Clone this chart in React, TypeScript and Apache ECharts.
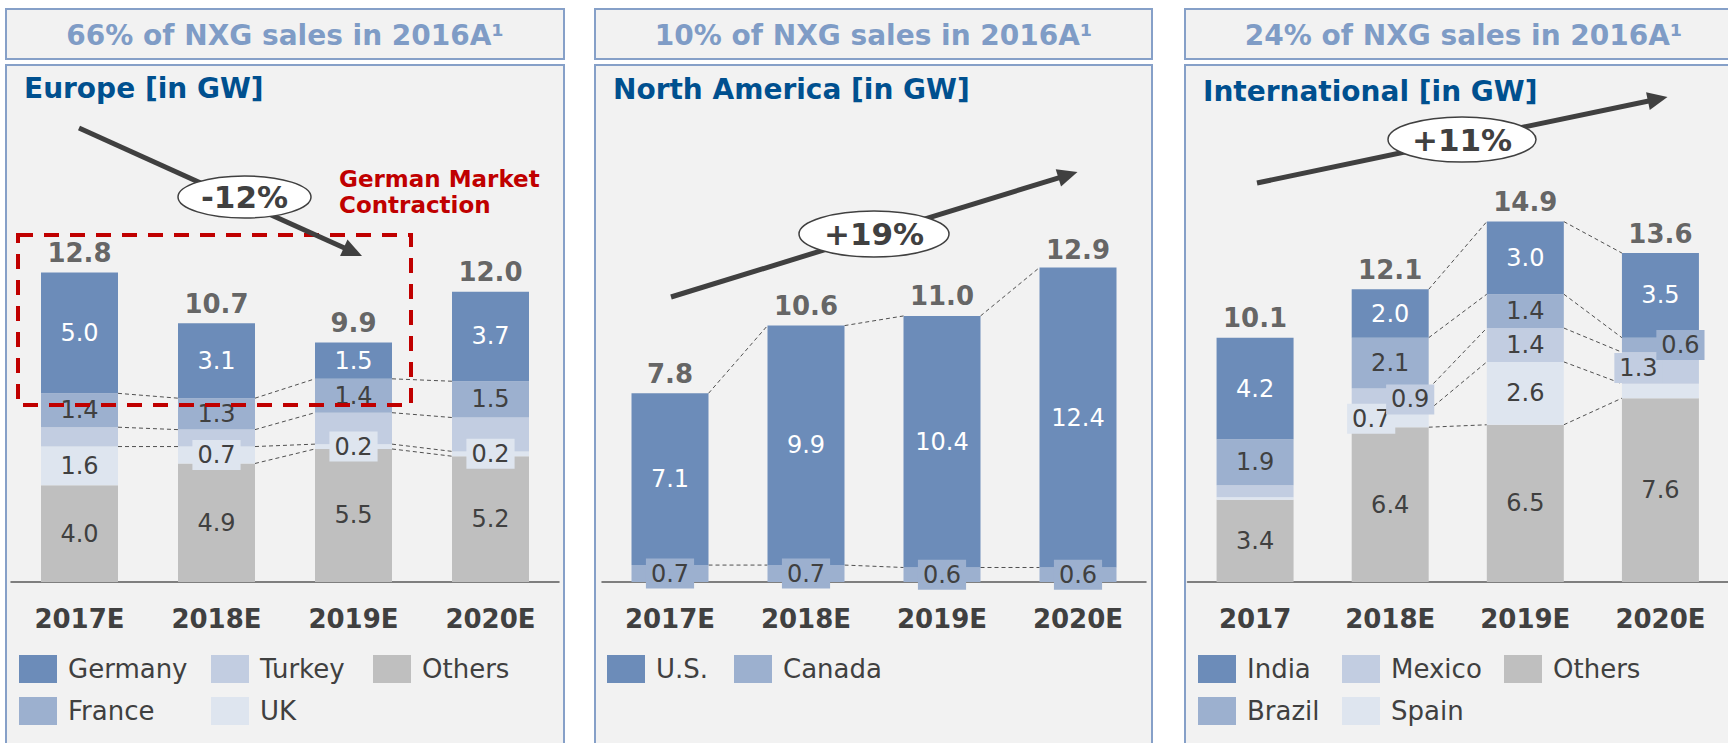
import React, { useEffect, useRef } from "react";
import * as echarts from "echarts";

// ---------- data ----------
const europeYears = ["2017E", "2018E", "2019E", "2020E"];
const europeGermany = [5.0, 3.1, 1.5, 3.7];
const europeFrance = [1.4, 1.3, 1.4, 1.5];
const europeTurkey = [0.8, 0.7, 1.3, 1.4];
const europeUK = [1.6, 0.7, 0.2, 0.2];
const europeOthers = [4.0, 4.9, 5.5, 5.2];
const europeTotals = [12.8, 10.7, 9.9, 12.0];

const naYears = ["2017E", "2018E", "2019E", "2020E"];
const naUS = [7.1, 9.9, 10.4, 12.4];
const naCanada = [0.7, 0.7, 0.6, 0.6];
const naTotals = [7.8, 10.6, 11.0, 12.9];

const intlYears = ["2017", "2018E", "2019E", "2020E"];
const intlIndia = [4.2, 2.0, 3.0, 3.5];
const intlBrazil = [1.9, 2.1, 1.4, 0.6];
const intlMexico = [0.5, 0.9, 1.4, 1.3];
const intlSpain = [0.1, 0.7, 2.6, 0.6];
const intlOthers = [3.4, 6.4, 6.5, 7.6];
const intlTotals = [10.1, 12.1, 14.9, 13.6];

const headerTexts = [
  "66% of NXG sales in 2016A\u00b9",
  "10% of NXG sales in 2016A\u00b9",
  "24% of NXG sales in 2016A\u00b9",
];
const panelTitles = ["Europe [in GW]", "North America [in GW]", "International [in GW]"];
const cagrTexts = ["-12%", "+19%", "+11%"];
const calloutLines = ["German Market", "Contraction"];

// ---------- style ----------
const FONT = '"DejaVu Sans", Verdana, sans-serif';
const C_DARK = "#6c8cb9";
const C_MID = "#9cb0cf";
const C_LIGHT = "#c2cde1";
const C_PALE = "#dee5ef";
const C_GRAY = "#bfbfbf";
const TXT = "#404040";
const BORDER = "#86a0c8";
const BAR_W = 77;
const Y_MAX = 16;

const panels = [
  { x: 6, w: 558 },
  { x: 595, w: 557 },
  { x: 1185, w: 557 },
];
const grids = [
  { left: 11, width: 548 },
  { left: 602, width: 544 },
  { left: 1187.5, width: 549 },
];

const boxLabel = (bg: string, dx: number) => ({
  backgroundColor: bg,
  padding: [3, 5],
  offset: [dx, 0],
});
const HIDE = { show: false };

function barSeries(
  name: string,
  values: number[],
  color: string,
  gi: number,
  textColor: string,
  itemLabels?: any[]
) {
  return {
    type: "bar",
    name,
    stack: "s" + gi,
    xAxisIndex: gi,
    yAxisIndex: gi,
    barWidth: BAR_W,
    z: 3,
    itemStyle: { color },
    emphasis: { disabled: true },
    label: {
      show: true,
      position: "inside",
      color: textColor,
      fontSize: 24,
      fontFamily: FONT,
      formatter: (p: any) => Number(p.value).toFixed(1),
    },
    data: values.map((v, i) =>
      itemLabels && itemLabels[i] ? { value: v, label: itemLabels[i] } : v
    ),
  };
}

function connectorSeries(gi: number, stackBottomUp: number[][], links: number[][]) {
  const n = stackBottomUp[0].length;
  const cum: number[][] = [];
  for (let i = 0; i < n; i++) {
    const row = [0];
    let s = 0;
    stackBottomUp.forEach((arr) => {
      s += arr[i];
      row.push(s);
    });
    cum.push(row);
  }
  const data: number[][] = [];
  links.forEach((levels, gap) =>
    levels.forEach((k) => data.push([gap, cum[gap][k], cum[gap + 1][k]]))
  );
  return {
    type: "custom",
    xAxisIndex: gi,
    yAxisIndex: gi,
    z: 1,
    silent: true,
    encode: { x: 0, y: 1 },
    data,
    renderItem: (params: any, api: any) => {
      const i = api.value(0);
      const p1 = api.coord([i, api.value(1)]);
      const p2 = api.coord([i + 1, api.value(2)]);
      return {
        type: "line",
        shape: { x1: p1[0] + BAR_W / 2, y1: p1[1], x2: p2[0] - BAR_W / 2, y2: p2[1] },
        style: { stroke: "#505050", lineWidth: 1, lineDash: [4, 3] },
      };
    },
  };
}

function totalSeries(gi: number, totals: number[]) {
  return {
    type: "scatter",
    xAxisIndex: gi,
    yAxisIndex: gi,
    symbolSize: 1,
    silent: true,
    z: 5,
    itemStyle: { color: "rgba(0,0,0,0)" },
    label: {
      show: true,
      position: "top",
      distance: 6,
      fontSize: 26,
      fontWeight: "bold",
      fontFamily: FONT,
      color: TXT,
      formatter: (p: any) => Number(p.value).toFixed(1),
    },
    data: totals,
  };
}

function arrow(x1: number, y1: number, x2: number, y2: number) {
  const dx = x2 - x1;
  const dy = y2 - y1;
  const L = Math.hypot(dx, dy);
  const ux = dx / L;
  const uy = dy / L;
  const hl = 20;
  const hw = 9;
  const bx = x2 - ux * hl;
  const by = y2 - uy * hl;
  return [
    {
      type: "line",
      z: 50,
      shape: { x1, y1, x2: bx + ux * 2, y2: by + uy * 2 },
      style: { stroke: TXT, lineWidth: 5 },
    },
    {
      type: "polygon",
      z: 50,
      shape: {
        points: [
          [x2, y2],
          [bx - uy * hw, by + ux * hw],
          [bx + uy * hw, by - ux * hw],
        ],
      },
      style: { fill: TXT },
    },
  ];
}

function bubble(cx: number, cy: number, rx: number, ry: number, text: string) {
  return [
    {
      type: "ellipse",
      z: 60,
      shape: { cx, cy, rx, ry },
      style: { fill: "#ffffff", stroke: TXT, lineWidth: 1.5 },
    },
    {
      type: "text",
      z: 61,
      x: cx,
      y: cy,
      style: {
        text,
        fill: TXT,
        font: `bold 31px ${FONT}`,
        align: "center",
        verticalAlign: "middle",
      },
    },
  ];
}

function buildOption() {
  const legendCommon = {
    orient: "vertical",
    itemWidth: 38,
    itemHeight: 28,
    itemGap: 14,
    padding: 0,
    icon: "rect",
    selectedMode: false,
    top: 655,
    textStyle: { fontSize: 26, color: TXT, fontFamily: FONT, padding: [0, 0, 0, 6] },
  };

  const graphicEls: any[] = [];
  panels.forEach((p, idx) => {
    graphicEls.push({
      type: "rect",
      z: -10,
      shape: { x: p.x, y: 9, width: p.w, height: 50 },
      style: { fill: "#f2f2f2", stroke: BORDER, lineWidth: 2 },
    });
    graphicEls.push({
      type: "rect",
      z: -10,
      shape: { x: p.x, y: 65, width: p.w, height: 700 },
      style: { fill: "#f2f2f2", stroke: BORDER, lineWidth: 2 },
    });
    graphicEls.push({
      type: "text",
      z: 10,
      x: p.x + p.w / 2,
      y: 35,
      style: {
        text: headerTexts[idx],
        fill: "#7f9cc6",
        font: `bold 28px ${FONT}`,
        align: "center",
        verticalAlign: "middle",
      },
    });
    graphicEls.push({
      type: "text",
      z: 10,
      x: p.x + 18,
      y: [88, 89, 91][idx],
      style: {
        text: panelTitles[idx],
        fill: "#00508f",
        font: `bold 28px ${FONT}`,
        align: "left",
        verticalAlign: "middle",
      },
    });
  });

  graphicEls.push(...arrow(79, 128, 362, 256));
  graphicEls.push(...bubble(244.5, 197, 66.5, 21, cagrTexts[0]));
  graphicEls.push(...arrow(671, 297, 1077.5, 172));
  graphicEls.push(...bubble(874, 234, 75, 23, cagrTexts[1]));
  graphicEls.push(...arrow(1257, 183, 1667.5, 97));
  graphicEls.push(...bubble(1462, 139.5, 74, 22.5, cagrTexts[2]));

  calloutLines.forEach((t, i) =>
    graphicEls.push({
      type: "text",
      z: 45,
      x: 339,
      y: 179 + i * 26,
      style: {
        text: t,
        fill: "#c00000",
        font: `bold 23px ${FONT}`,
        align: "left",
        verticalAlign: "middle",
      },
    })
  );
  graphicEls.push({
    type: "rect",
    z: 40,
    shape: { x: 18, y: 235, width: 393, height: 170 },
    style: { fill: "none", stroke: "#c00000", lineWidth: 4, lineDash: [15, 11] },
  });

  const yearsList = [europeYears, naYears, intlYears];

  return {
    animation: false,
    backgroundColor: "#ffffff",
    textStyle: { fontFamily: FONT },
    grid: grids.map((g) => ({ left: g.left, width: g.width, top: 195, height: 387 })),
    xAxis: yearsList.map((years, gi) => ({
      type: "category",
      gridIndex: gi,
      data: years,
      axisTick: { show: false },
      axisLine: { show: true, lineStyle: { color: "#595959", width: 1.5 } },
      axisLabel: {
        fontSize: 26,
        fontWeight: "bold",
        color: TXT,
        fontFamily: FONT,
        margin: 24,
      },
      z: 2,
    })),
    yAxis: yearsList.map((_, gi) => ({
      type: "value",
      gridIndex: gi,
      min: 0,
      max: Y_MAX,
      show: false,
    })),
    legend: [
      { ...legendCommon, left: 19, data: ["Germany", "France"] },
      { ...legendCommon, left: 211, data: ["Turkey", "UK"] },
      { ...legendCommon, left: 373, data: ["Others"] },
      { ...legendCommon, left: 607, data: ["U.S."] },
      { ...legendCommon, left: 734, data: ["Canada"] },
      { ...legendCommon, left: 1198, data: ["India", "Brazil"] },
      { ...legendCommon, left: 1342, data: ["Mexico", "Spain"] },
      { ...legendCommon, left: 1504, data: ["Others"] },
    ],
    graphic: { elements: graphicEls },
    series: [
      // Europe
      barSeries("Others", europeOthers, C_GRAY, 0, TXT),
      barSeries("UK", europeUK, C_PALE, 0, TXT, europeUK.map(() => boxLabel(C_PALE, 0))),
      barSeries("Turkey", europeTurkey, C_LIGHT, 0, TXT, europeTurkey.map(() => HIDE)),
      barSeries("France", europeFrance, C_MID, 0, TXT),
      barSeries("Germany", europeGermany, C_DARK, 0, "#ffffff"),
      connectorSeries(
        0,
        [europeOthers, europeUK, europeTurkey, europeFrance, europeGermany],
        [[2, 3, 4], [1, 2, 3, 4], [1, 2, 3, 4]]
      ),
      totalSeries(0, europeTotals),
      // North America
      barSeries("Canada", naCanada, C_MID, 1, TXT, naCanada.map(() => boxLabel(C_MID, 0))),
      barSeries("U.S.", naUS, C_DARK, 1, "#ffffff"),
      connectorSeries(1, [naCanada, naUS], [[1, 2], [1, 2], [1, 2]]),
      totalSeries(1, naTotals),
      // International
      barSeries("Others", intlOthers, C_GRAY, 2, TXT),
      barSeries("Spain", intlSpain, C_PALE, 2, TXT, [HIDE, boxLabel(C_PALE, -19), null, HIDE]),
      barSeries("Mexico", intlMexico, C_LIGHT, 2, TXT, [
        HIDE,
        boxLabel(C_LIGHT, 20),
        null,
        boxLabel(C_LIGHT, -22),
      ]),
      barSeries("Brazil", intlBrazil, C_MID, 2, TXT, [null, null, null, boxLabel(C_MID, 20)]),
      barSeries("India", intlIndia, C_DARK, 2, "#ffffff"),
      connectorSeries(
        2,
        [intlOthers, intlSpain, intlMexico, intlBrazil, intlIndia],
        [[], [1, 2, 3, 4, 5], [1, 2, 3, 4, 5]]
      ),
      totalSeries(2, intlTotals),
    ],
  };
}

export default function App() {
  const ref = useRef<HTMLDivElement>(null);
  useEffect(() => {
    if (!ref.current) return;
    const chart = echarts.init(ref.current, undefined, { renderer: "svg" });
    chart.setOption(buildOption() as any);
    return () => chart.dispose();
  }, []);
  return (
    <div
      ref={ref}
      style={{ position: "absolute", left: 0, top: 0, width: 1728, height: 743, background: "#fff" }}
    />
  );
}
